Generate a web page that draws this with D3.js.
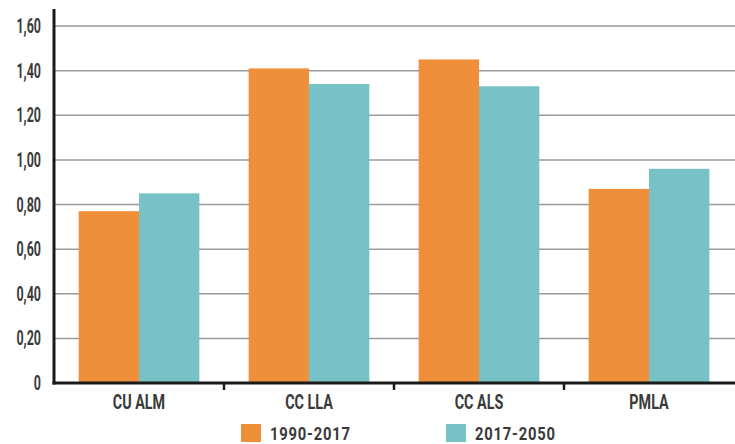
<!DOCTYPE html>
<html lang="en">
<head>
    <meta charset="UTF-8">
    <title>Bar chart 1990-2017 vs 2017-2050</title>
    <script src="https://d3js.org/d3.v7.js"></script>
    <style>
        body { margin: 0; background: #fff; }
        text { font-family: Roboto, "Noto Sans", sans-serif; font-weight: 700; fill: #3a3a3a; }
    </style>
</head>
<body>
    <svg></svg>
    <script>
        const categories = ["CU ALM", "CC LLA", "CC ALS", "PMLA"];
        const series = ["1990-2017", "2017-2050"];
        const values1990 = [0.77, 1.41, 1.45, 0.87];
        const values2017 = [0.85, 1.34, 1.33, 0.96];
        const yTicks = [0, 0.2, 0.4, 0.6, 0.8, 1.0, 1.2, 1.4, 1.6];
        const colors = ["#f08f3a", "#77c2c7"];

        const width = 735;
        const height = 444;
        const margin = {top: 10, right: 1, bottom: 61, left: 54};

        const svg = d3.select("svg")
            .attr("width", width)
            .attr("height", height);

        const x = d3.scaleBand()
            .domain(categories)
            .range([margin.left, width - margin.right])
            .paddingInner(0.29)
            .paddingOuter(0.145);

        const x2 = d3.scaleBand()
            .domain(series)
            .range([0, x.bandwidth()]);

        const y = d3.scaleLinear()
            .domain([0, 1.6])
            .range([383, 26]);

        const fmt = d => d === 0 ? "0" : d3.format(".2f")(d).replace(".", ",");

        // gridlines
        svg.append("g")
            .selectAll("line")
            .data(yTicks.filter(d => d > 0))
            .join("line")
            .attr("x1", margin.left)
            .attr("x2", width)
            .attr("y1", d => y(d))
            .attr("y2", d => y(d))
            .attr("stroke", "#9a9a9a")
            .attr("stroke-width", 1.5);

        // y labels
        svg.append("g")
            .selectAll("text")
            .data(yTicks)
            .join("text")
            .attr("transform", d => `translate(41,${y(d) + 7}) scale(0.64,1)`)
            .attr("text-anchor", "end")
            .attr("font-size", 19.5)
            .text(fmt);

        // bars
        const rows = categories.map((c, i) => ({cat: c, vals: [values1990[i], values2017[i]]}));
        svg.append("g")
            .selectAll("g")
            .data(rows)
            .join("g")
            .attr("transform", d => `translate(${x(d.cat)},0)`)
            .selectAll("rect")
            .data(d => d.vals.map((v, j) => ({s: series[j], v, j})))
            .join("rect")
            .attr("x", d => x2(d.s))
            .attr("y", d => y(d.v))
            .attr("width", x2.bandwidth())
            .attr("height", d => y(0) - y(d.v))
            .attr("fill", d => colors[d.j]);

        // axes lines
        svg.append("line")
            .attr("x1", margin.left).attr("x2", margin.left)
            .attr("y1", 9).attr("y2", y(0) + 1.5)
            .attr("stroke", "#1a1a1a").attr("stroke-width", 3);
        svg.append("line")
            .attr("x1", margin.left - 1.5).attr("x2", width)
            .attr("y1", y(0)).attr("y2", y(0))
            .attr("stroke", "#1a1a1a").attr("stroke-width", 3);

        // category ticks at band boundaries
        const step = x.step();
        const bounds = categories.slice(1).map(c => x(c) - step * x.paddingInner() / 2);
        svg.append("g")
            .selectAll("line")
            .data(bounds)
            .join("line")
            .attr("x1", d => d).attr("x2", d => d)
            .attr("y1", y(0)).attr("y2", y(0) + 7)
            .attr("stroke", "#1a1a1a").attr("stroke-width", 2.5);

        // x labels
        svg.append("g")
            .selectAll("text")
            .data(categories)
            .join("text")
            .attr("transform", d => `translate(${x(d) + x.bandwidth() / 2},408.5) scale(0.7,1)`)
            .attr("text-anchor", "middle")
            .attr("font-size", 20.5)
            .text(d => d);

        // legend
        const legendX = [241, 446];
        const legend = svg.append("g")
            .selectAll("g")
            .data(series)
            .join("g")
            .attr("transform", (d, i) => `translate(${legendX[i]},424)`);
        legend.append("rect")
            .attr("width", 20).attr("height", 18)
            .attr("fill", (d, i) => colors[i]);
        legend.append("text")
            .attr("transform", "translate(29,16) scale(0.78,1)")
            .attr("font-size", 19)
            .attr("letter-spacing", 1)
            .text(d => d);
    </script>
</body>
</html>
